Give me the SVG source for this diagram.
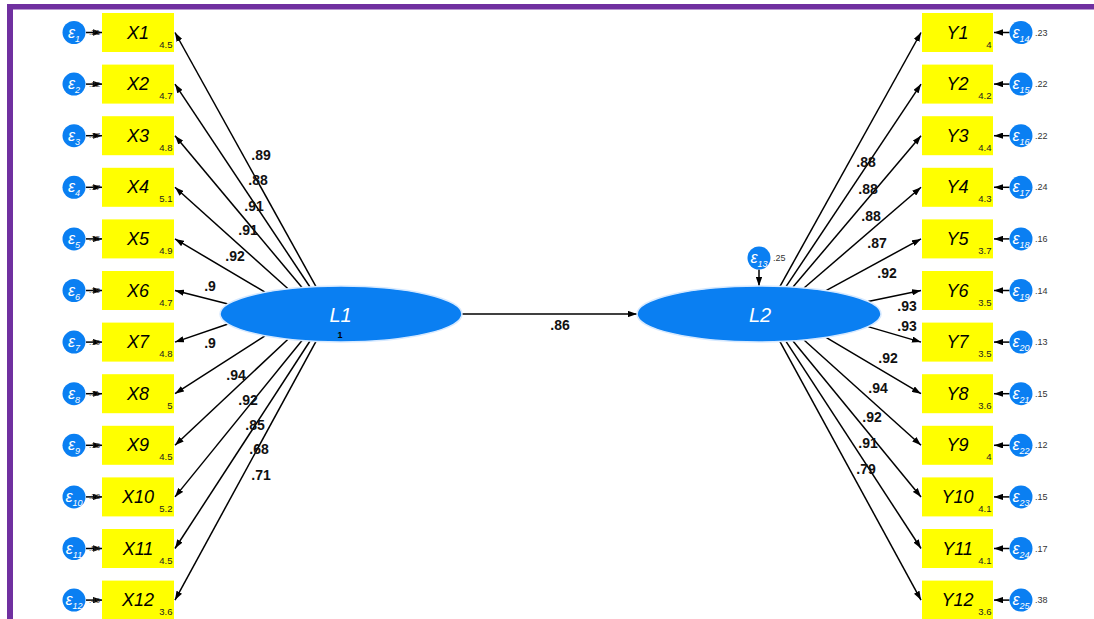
<svg xmlns="http://www.w3.org/2000/svg" width="1094" height="619" viewBox="0 0 1094 619">
<style>
.box{fill:#ffff00}
.lat{fill:#0a7ff2;stroke:#d6e9ff;stroke-width:1.5}
.err{fill:#0a7ff2}
.con{stroke:#000;stroke-width:1.5;fill:none;marker-end:url(#ah)}
.vl{font-family:"Liberation Sans",Arial,sans-serif;font-style:italic;font-size:18px;text-anchor:middle;fill:#000}
.mn{font-family:"Liberation Sans",Arial,sans-serif;font-size:9.5px;text-anchor:end;fill:#222}
.eps{font-family:"Liberation Sans",Arial,sans-serif;font-style:italic;font-size:16px;text-anchor:middle;fill:#fff}
.sub{font-size:9px}
.ld{font-family:"Liberation Sans",Arial,sans-serif;font-weight:bold;font-size:14px;text-anchor:middle;fill:#111}
.ev{font-family:"Liberation Sans",Arial,sans-serif;font-size:8px;fill:#333}
.evr{font-family:"Liberation Sans",Arial,sans-serif;font-size:9px;fill:#333}
.lt{font-family:"Liberation Sans",Arial,sans-serif;font-style:italic;font-size:20px;text-anchor:middle;fill:#fff}
</style>
<defs>
<marker id="ah" viewBox="0 0 10 7" refX="10" refY="3.5" markerWidth="9" markerHeight="6.3" markerUnits="userSpaceOnUse" orient="auto">
<path d="M0,0 L10,3.5 L0,7 z" fill="#000"/>
</marker>
</defs>
<rect width="1094" height="619" fill="#fff"/>
<rect x="7" y="4" width="1087" height="5.5" fill="#7030a0"/>
<rect x="7" y="4" width="6" height="615" fill="#7030a0"/>

<g id="connectors">
<path class="con" d="M316,286.6 L175,32.5"/>
<path class="con" d="M310,287 L175,84.1"/>
<path class="con" d="M302,287.5 L175,135.7"/>
<path class="con" d="M288,288.8 L175,187.3"/>
<path class="con" d="M265,292.2 L175,238.9"/>
<path class="con" d="M228,304 L175,290.5"/>
<path class="con" d="M228,324 L175,342.1"/>
<path class="con" d="M265,335.8 L175,393.7"/>
<path class="con" d="M288,339.2 L175,445.3"/>
<path class="con" d="M302,340.5 L175,496.9"/>
<path class="con" d="M310,341 L175,548.5"/>
<path class="con" d="M316,341.4 L175,600.1"/>
<path class="con" d="M780,286.4 L921,32.5"/>
<path class="con" d="M786,286.7 L921,84.1"/>
<path class="con" d="M793,287.1 L921,135.7"/>
<path class="con" d="M804,288 L921,187.3"/>
<path class="con" d="M826,290.6 L921,238.9"/>
<path class="con" d="M868,301.4 L921,290.5"/>
<path class="con" d="M868,326.6 L921,342.1"/>
<path class="con" d="M826,337.4 L921,393.7"/>
<path class="con" d="M804,340 L921,445.3"/>
<path class="con" d="M793,340.9 L921,496.9"/>
<path class="con" d="M786,341.3 L921,548.5"/>
<path class="con" d="M780,341.6 L921,600.1"/>
<path class="con" d="M462,314 L637,314"/>
<path class="con" d="M759,269.5 L759,286"/>
<path class="con" d="M86,32.5 L102,32.5"/>
<path class="con" d="M86,84.1 L102,84.1"/>
<path class="con" d="M86,135.7 L102,135.7"/>
<path class="con" d="M86,187.3 L102,187.3"/>
<path class="con" d="M86,238.9 L102,238.9"/>
<path class="con" d="M86,290.5 L102,290.5"/>
<path class="con" d="M86,342.1 L102,342.1"/>
<path class="con" d="M86,393.7 L102,393.7"/>
<path class="con" d="M86,445.3 L102,445.3"/>
<path class="con" d="M86,496.9 L102,496.9"/>
<path class="con" d="M86,548.5 L102,548.5"/>
<path class="con" d="M86,600.1 L102,600.1"/>
<path class="con" d="M1009.5,32.5 L994,32.5"/>
<path class="con" d="M1009.5,84.1 L994,84.1"/>
<path class="con" d="M1009.5,135.7 L994,135.7"/>
<path class="con" d="M1009.5,187.3 L994,187.3"/>
<path class="con" d="M1009.5,238.9 L994,238.9"/>
<path class="con" d="M1009.5,290.5 L994,290.5"/>
<path class="con" d="M1009.5,342.1 L994,342.1"/>
<path class="con" d="M1009.5,393.7 L994,393.7"/>
<path class="con" d="M1009.5,445.3 L994,445.3"/>
<path class="con" d="M1009.5,496.9 L994,496.9"/>
<path class="con" d="M1009.5,548.5 L994,548.5"/>
<path class="con" d="M1009.5,600.1 L994,600.1"/>
<g class="ld">
<text x="261" y="160">.89</text><text x="258" y="185">.88</text><text x="254" y="211">.91</text><text x="248" y="235">.91</text><text x="235" y="261">.92</text><text x="210" y="291">.9</text><text x="210" y="348">.9</text><text x="236" y="380">.94</text><text x="248" y="405">.92</text><text x="255" y="430">.85</text><text x="259" y="454">.68</text><text x="261" y="480">.71</text>
<text x="866" y="167">.88</text><text x="868" y="194">.88</text><text x="871" y="221">.88</text><text x="877" y="248">.87</text><text x="887" y="278">.92</text><text x="907" y="311">.93</text><text x="907" y="331">.93</text><text x="888" y="363">.92</text><text x="878" y="393">.94</text><text x="872" y="422">.92</text><text x="868" y="448">.91</text><text x="866" y="474">.79</text>
<text x="560" y="330">.86</text>
</g>
</g>

<g id="L1"><ellipse class="lat" cx="341" cy="314" rx="121" ry="28"/><text class="lt" x="340.5" y="321.5">L1</text><text x="340" y="338" font-family="Liberation Sans,Arial,sans-serif" font-size="9" font-weight="bold" text-anchor="middle">1</text></g>
<g id="L2"><ellipse class="lat" cx="759" cy="314" rx="122" ry="28"/><text class="lt" x="760" y="322">L2</text></g>
<g id="e13"><circle class="err" cx="759" cy="258" r="11.5"/><text class="eps" x="759" y="263">ε<tspan class="sub" dy="4">13</tspan></text><text class="evr" x="773" y="261">.25</text></g>

<g id="X1"><rect class="box" x="102" y="13" width="72" height="39"/><text class="vl" x="138" y="38.5">X1</text><text class="mn" x="172.5" y="47.5">4.5</text></g>
<g id="X2"><rect class="box" x="102" y="64.6" width="72" height="39"/><text class="vl" x="138" y="90.1">X2</text><text class="mn" x="172.5" y="99.1">4.7</text></g>
<g id="X3"><rect class="box" x="102" y="116.2" width="72" height="39"/><text class="vl" x="138" y="141.7">X3</text><text class="mn" x="172.5" y="150.7">4.8</text></g>
<g id="X4"><rect class="box" x="102" y="167.8" width="72" height="39"/><text class="vl" x="138" y="193.3">X4</text><text class="mn" x="172.5" y="202.3">5.1</text></g>
<g id="X5"><rect class="box" x="102" y="219.4" width="72" height="39"/><text class="vl" x="138" y="244.9">X5</text><text class="mn" x="172.5" y="253.9">4.9</text></g>
<g id="X6"><rect class="box" x="102" y="271" width="72" height="39"/><text class="vl" x="138" y="296.5">X6</text><text class="mn" x="172.5" y="305.5">4.7</text></g>
<g id="X7"><rect class="box" x="102" y="322.6" width="72" height="39"/><text class="vl" x="138" y="348.1">X7</text><text class="mn" x="172.5" y="357.1">4.8</text></g>
<g id="X8"><rect class="box" x="102" y="374.2" width="72" height="39"/><text class="vl" x="138" y="399.7">X8</text><text class="mn" x="172.5" y="408.7">5</text></g>
<g id="X9"><rect class="box" x="102" y="425.8" width="72" height="39"/><text class="vl" x="138" y="451.3">X9</text><text class="mn" x="172.5" y="460.3">4.5</text></g>
<g id="X10"><rect class="box" x="102" y="477.4" width="72" height="39"/><text class="vl" x="138" y="502.9">X10</text><text class="mn" x="172.5" y="511.9">5.2</text></g>
<g id="X11"><rect class="box" x="102" y="529" width="72" height="39"/><text class="vl" x="138" y="554.5">X11</text><text class="mn" x="172.5" y="563.5">4.5</text></g>
<g id="X12"><rect class="box" x="102" y="580.6" width="72" height="39"/><text class="vl" x="138" y="606.1">X12</text><text class="mn" x="172.5" y="615.1">3.6</text></g>

<g id="Y1"><rect class="box" x="922" y="13" width="71" height="39"/><text class="vl" x="957.5" y="38.5">Y1</text><text class="mn" x="991.5" y="47.5">4</text></g>
<g id="Y2"><rect class="box" x="922" y="64.6" width="71" height="39"/><text class="vl" x="957.5" y="90.1">Y2</text><text class="mn" x="991.5" y="99.1">4.2</text></g>
<g id="Y3"><rect class="box" x="922" y="116.2" width="71" height="39"/><text class="vl" x="957.5" y="141.7">Y3</text><text class="mn" x="991.5" y="150.7">4.4</text></g>
<g id="Y4"><rect class="box" x="922" y="167.8" width="71" height="39"/><text class="vl" x="957.5" y="193.3">Y4</text><text class="mn" x="991.5" y="202.3">4.3</text></g>
<g id="Y5"><rect class="box" x="922" y="219.4" width="71" height="39"/><text class="vl" x="957.5" y="244.9">Y5</text><text class="mn" x="991.5" y="253.9">3.7</text></g>
<g id="Y6"><rect class="box" x="922" y="271" width="71" height="39"/><text class="vl" x="957.5" y="296.5">Y6</text><text class="mn" x="991.5" y="305.5">3.5</text></g>
<g id="Y7"><rect class="box" x="922" y="322.6" width="71" height="39"/><text class="vl" x="957.5" y="348.1">Y7</text><text class="mn" x="991.5" y="357.1">3.5</text></g>
<g id="Y8"><rect class="box" x="922" y="374.2" width="71" height="39"/><text class="vl" x="957.5" y="399.7">Y8</text><text class="mn" x="991.5" y="408.7">3.6</text></g>
<g id="Y9"><rect class="box" x="922" y="425.8" width="71" height="39"/><text class="vl" x="957.5" y="451.3">Y9</text><text class="mn" x="991.5" y="460.3">4</text></g>
<g id="Y10"><rect class="box" x="922" y="477.4" width="71" height="39"/><text class="vl" x="957.5" y="502.9">Y10</text><text class="mn" x="991.5" y="511.9">4.1</text></g>
<g id="Y11"><rect class="box" x="922" y="529" width="71" height="39"/><text class="vl" x="957.5" y="554.5">Y11</text><text class="mn" x="991.5" y="563.5">4.1</text></g>
<g id="Y12"><rect class="box" x="922" y="580.6" width="71" height="39"/><text class="vl" x="957.5" y="606.1">Y12</text><text class="mn" x="991.5" y="615.1">3.6</text></g>

<g id="e1"><circle class="err" cx="74" cy="32.5" r="11.5"/><text class="eps" x="74" y="37.5">ε<tspan class="sub" dy="4">1</tspan></text><text class="ev" x="89" y="35">.21</text></g>
<g id="e2"><circle class="err" cx="74" cy="84.1" r="11.5"/><text class="eps" x="74" y="89.1">ε<tspan class="sub" dy="4">2</tspan></text><text class="ev" x="89" y="86.6">.22</text></g>
<g id="e3"><circle class="err" cx="74" cy="135.7" r="11.5"/><text class="eps" x="74" y="140.7">ε<tspan class="sub" dy="4">3</tspan></text><text class="ev" x="89" y="138.2">.17</text></g>
<g id="e4"><circle class="err" cx="74" cy="187.3" r="11.5"/><text class="eps" x="74" y="192.3">ε<tspan class="sub" dy="4">4</tspan></text><text class="ev" x="89" y="189.8">.17</text></g>
<g id="e5"><circle class="err" cx="74" cy="238.9" r="11.5"/><text class="eps" x="74" y="243.9">ε<tspan class="sub" dy="4">5</tspan></text><text class="ev" x="89" y="241.4">.15</text></g>
<g id="e6"><circle class="err" cx="74" cy="290.5" r="11.5"/><text class="eps" x="74" y="295.5">ε<tspan class="sub" dy="4">6</tspan></text><text class="ev" x="89" y="293">.19</text></g>
<g id="e7"><circle class="err" cx="74" cy="342.1" r="11.5"/><text class="eps" x="74" y="347.1">ε<tspan class="sub" dy="4">7</tspan></text><text class="ev" x="89" y="344.6">.19</text></g>
<g id="e8"><circle class="err" cx="74" cy="393.7" r="11.5"/><text class="eps" x="74" y="398.7">ε<tspan class="sub" dy="4">8</tspan></text><text class="ev" x="89" y="396.2">.11</text></g>
<g id="e9"><circle class="err" cx="74" cy="445.3" r="11.5"/><text class="eps" x="74" y="450.3">ε<tspan class="sub" dy="4">9</tspan></text><text class="ev" x="89" y="447.8">.15</text></g>
<g id="e10"><circle class="err" cx="74" cy="496.9" r="11.5"/><text class="eps" x="74" y="501.9">ε<tspan class="sub" dy="4">10</tspan></text><text class="ev" x="89" y="499.4">.28</text></g>
<g id="e11"><circle class="err" cx="74" cy="548.5" r="11.5"/><text class="eps" x="74" y="553.5">ε<tspan class="sub" dy="4">11</tspan></text><text class="ev" x="89" y="551">.54</text></g>
<g id="e12"><circle class="err" cx="74" cy="600.1" r="11.5"/><text class="eps" x="74" y="605.1">ε<tspan class="sub" dy="4">12</tspan></text><text class="ev" x="89" y="602.6">.49</text></g>

<g id="e14"><circle class="err" cx="1021" cy="32.5" r="11.5"/><text class="eps" x="1021" y="37.5">ε<tspan class="sub" dy="4">14</tspan></text><text class="evr" x="1035" y="35.5">.23</text></g>
<g id="e15"><circle class="err" cx="1021" cy="84.1" r="11.5"/><text class="eps" x="1021" y="89.1">ε<tspan class="sub" dy="4">15</tspan></text><text class="evr" x="1035" y="87.1">.22</text></g>
<g id="e16"><circle class="err" cx="1021" cy="135.7" r="11.5"/><text class="eps" x="1021" y="140.7">ε<tspan class="sub" dy="4">16</tspan></text><text class="evr" x="1035" y="138.7">.22</text></g>
<g id="e17"><circle class="err" cx="1021" cy="187.3" r="11.5"/><text class="eps" x="1021" y="192.3">ε<tspan class="sub" dy="4">17</tspan></text><text class="evr" x="1035" y="190.3">.24</text></g>
<g id="e18"><circle class="err" cx="1021" cy="238.9" r="11.5"/><text class="eps" x="1021" y="243.9">ε<tspan class="sub" dy="4">18</tspan></text><text class="evr" x="1035" y="241.9">.16</text></g>
<g id="e19"><circle class="err" cx="1021" cy="290.5" r="11.5"/><text class="eps" x="1021" y="295.5">ε<tspan class="sub" dy="4">19</tspan></text><text class="evr" x="1035" y="293.5">.14</text></g>
<g id="e20"><circle class="err" cx="1021" cy="342.1" r="11.5"/><text class="eps" x="1021" y="347.1">ε<tspan class="sub" dy="4">20</tspan></text><text class="evr" x="1035" y="345.1">.13</text></g>
<g id="e21"><circle class="err" cx="1021" cy="393.7" r="11.5"/><text class="eps" x="1021" y="398.7">ε<tspan class="sub" dy="4">21</tspan></text><text class="evr" x="1035" y="396.7">.15</text></g>
<g id="e22"><circle class="err" cx="1021" cy="445.3" r="11.5"/><text class="eps" x="1021" y="450.3">ε<tspan class="sub" dy="4">22</tspan></text><text class="evr" x="1035" y="448.3">.12</text></g>
<g id="e23"><circle class="err" cx="1021" cy="496.9" r="11.5"/><text class="eps" x="1021" y="501.9">ε<tspan class="sub" dy="4">23</tspan></text><text class="evr" x="1035" y="499.9">.15</text></g>
<g id="e24"><circle class="err" cx="1021" cy="548.5" r="11.5"/><text class="eps" x="1021" y="553.5">ε<tspan class="sub" dy="4">24</tspan></text><text class="evr" x="1035" y="551.5">.17</text></g>
<g id="e25"><circle class="err" cx="1021" cy="600.1" r="11.5"/><text class="eps" x="1021" y="605.1">ε<tspan class="sub" dy="4">25</tspan></text><text class="evr" x="1035" y="603.1">.38</text></g>
</svg>
